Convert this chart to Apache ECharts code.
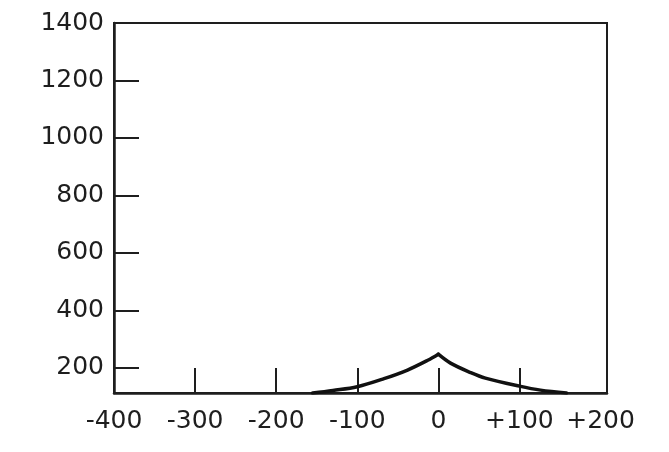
<!DOCTYPE html>
<html>
<head>
<meta charset="utf-8">
<script src="https://cdn.jsdelivr.net/npm/echarts@6/dist/echarts.min.js"></script>
<style>
html,body{margin:0;padding:0;background:#fff;}
#chart{width:669px;height:452px;}
</style>
</head>
<body>
<div id="chart"></div>
<script>
// Data (left and right flank of the peak)
var leftX = [-155, -130, -100, -67, -38, -13, 0];
var leftY = [112, 121, 134, 162, 192, 226, 247];
var rightX = [0, 15, 40, 58, 100, 126, 158];
var rightY = [247, 216, 183, 164, 136, 122, 112];
var xTickValues = [-400, -300, -200, -100, 0, 100, 200];
var xTickLabels = ['-400', '-300', '-200', '-100', '0', '+100', '+200'];
var xTickMarks = [-300, -200, -100, 0, 100];
var yTickValues = [200, 400, 600, 800, 1000, 1200, 1400];
var yTickMarks = [200, 400, 600, 800, 1000, 1200];

function pairs(xs, ys) { return xs.map(function (x, i) { return [x, ys[i]]; }); }
var labelFont = { fontFamily: 'DejaVu Sans', fontSize: 25, color: '#1e1e1e' };
var curveStyle = { color: '#111', width: 3.5, cap: 'round', join: 'round' };

var chart = echarts.init(document.getElementById('chart'), null, { renderer: 'canvas' });
chart.setOption({
  animation: false,
  backgroundColor: '#ffffff',
  grid: {
    left: 114, top: 23, right: 62, bottom: 59,
    show: true, borderColor: '#1e1e1e', borderWidth: 2, backgroundColor: 'transparent'
  },
  xAxis: {
    type: 'value', min: -400, max: 208,
    axisLine: { show: true, onZero: false, lineStyle: { color: '#1e1e1e', width: 2.5 } },
    axisTick: { show: true, inside: true, length: 25, customValues: xTickMarks, lineStyle: { color: '#1e1e1e', width: 2 } },
    axisLabel: Object.assign({
      margin: 16,
      customValues: xTickValues,
      formatter: function (v) { var i = xTickValues.indexOf(v); return i >= 0 ? xTickLabels[i] : ''; }
    }, labelFont),
    splitLine: { show: false }
  },
  yAxis: {
    type: 'value', min: 112, max: 1400,
    axisLine: { show: true, onZero: false, lineStyle: { color: '#1e1e1e', width: 2.5 } },
    axisTick: { show: true, inside: true, length: 25, customValues: yTickMarks, lineStyle: { color: '#1e1e1e', width: 2 } },
    axisLabel: Object.assign({ margin: 10, customValues: yTickValues, formatter: function (v) { return String(v); } }, labelFont),
    splitLine: { show: false }
  },
  series: [{
    type: 'line',
    data: pairs(leftX, leftY),
    showSymbol: false,
    smooth: 0.35,
    lineStyle: curveStyle,
    z: 3
  }, {
    type: 'line',
    data: pairs(rightX, rightY),
    showSymbol: false,
    smooth: 0.35,
    lineStyle: curveStyle,
    z: 3
  }]
});
</script>
</body>
</html>
